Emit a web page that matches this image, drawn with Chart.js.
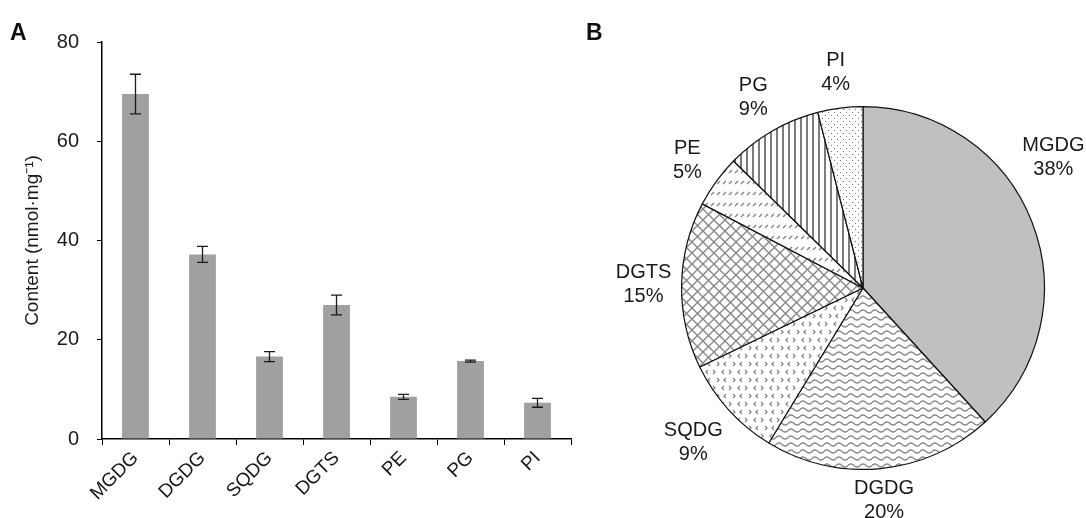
<!DOCTYPE html>
<html>
<head>
<meta charset="utf-8">
<script src="https://cdn.jsdelivr.net/npm/chart.js@4.4.1/dist/chart.umd.min.js"></script>
<style>
  body { margin: 0; background: #fff; width: 1086px; height: 518px; position: relative; overflow: hidden;
         font-family: 'Liberation Sans', Arial, sans-serif; }
  #barChart { position: absolute; left: 0; top: 0; }
  #pieChart { position: absolute; left: 560px; top: 0; }
  .panel { position: absolute; font-weight: bold; font-size: 23px; line-height: 1; color: #111; }
</style>
</head>
<body>
<canvas id="barChart" width="580" height="518"></canvas>
<canvas id="pieChart" width="526" height="518"></canvas>
<div class="panel" style="left:10px; top:21px;">A</div>
<div class="panel" style="left:586px; top:21px;">B</div>
<script>
// lipid classes and their content (nmol/mg)
var categories = ['MGDG', 'DGDG', 'SQDG', 'DGTS', 'PE', 'PG', 'PI'];
var contentValues = [69.5, 37.2, 16.6, 27.0, 8.5, 15.7, 7.3];
var contentErrors = [4.0, 1.6, 1.0, 2.0, 0.5, 0.2, 0.9];
var yTicks = [0, 20, 40, 60, 80];

var family = "'Liberation Sans', Arial, sans-serif";
var textColor = '#1a1a1a';

// error bars drawn with the y scale of the bar chart
var errorBars = {
  id: 'errorBars',
  afterDatasetsDraw: function (chart) {
    var ctx = chart.ctx, y = chart.scales.y;
    ctx.save();
    ctx.strokeStyle = '#1a1a1a';
    ctx.lineWidth = 1.3;
    chart.getDatasetMeta(0).data.forEach(function (bar, i) {
      var hi = y.getPixelForValue(contentValues[i] + contentErrors[i]);
      var lo = y.getPixelForValue(contentValues[i] - contentErrors[i]);
      ctx.beginPath();
      ctx.moveTo(bar.x, hi); ctx.lineTo(bar.x, lo);
      ctx.moveTo(bar.x - 5.5, hi); ctx.lineTo(bar.x + 5.5, hi);
      ctx.moveTo(bar.x - 5.5, lo); ctx.lineTo(bar.x + 5.5, lo);
      ctx.stroke();
    });
    ctx.restore();
  }
};

new Chart(document.getElementById('barChart'), {
  type: 'bar',
  data: {
    labels: categories,
    datasets: [{
      data: contentValues,
      backgroundColor: '#a0a0a0',
      barPercentage: 0.4,
      categoryPercentage: 1.0
    }]
  },
  options: {
    responsive: false,
    animation: false,
    layout: { padding: { top: 42, right: 9, left: 0, bottom: 0 } },
    plugins: { legend: { display: false }, tooltip: { enabled: false } },
    scales: {
      x: {
        grid: { drawOnChartArea: false, drawTicks: true, tickLength: 6, color: '#000', offset: true },
        border: { color: '#000', width: 1.5 },
        ticks: { maxRotation: 45, minRotation: 45, autoSkip: false, color: textColor,
                 font: { size: 19, family: family }, padding: 2 },
        afterFit: function (s) { s.height = 79; }
      },
      y: {
        min: 0, max: 80,
        afterBuildTicks: function (s) { s.ticks = yTicks.map(function (v) { return { value: v }; }); },
        grid: { drawOnChartArea: false, tickLength: 5, color: '#000' },
        border: { color: '#000', width: 1.5 },
        ticks: { color: textColor, font: { size: 20, family: family }, padding: 18 },
        title: { display: true, text: 'Content (nmol·mg⁻¹)', color: textColor,
                 font: { size: 19, family: family }, padding: { top: 21, bottom: 0 } },
        afterFit: function (s) { s.width = 102; }
      }
    }
  },
  plugins: [errorBars]
});

// pattern fills for the pie slices
function makePattern(w, h, draw) {
  var c = document.createElement('canvas');
  c.width = w; c.height = h;
  var g = c.getContext('2d');
  g.fillStyle = '#fff';
  g.fillRect(0, 0, w, h);
  g.fillStyle = '#888';
  g.strokeStyle = '#888';
  draw(g);
  return g.createPattern(c, 'repeat');
}

var fills = [
  '#c0c0c0',
  makePattern(12, 7, function (g) {           // waves
    g.lineWidth = 1.4;
    g.beginPath();
    g.moveTo(0, 3.5);
    g.quadraticCurveTo(3, 0.5, 6, 3.5);
    g.quadraticCurveTo(9, 6.5, 12, 3.5);
    g.stroke();
  }),
  makePattern(16, 16, function (g) {          // small chevrons
    g.lineWidth = 1.3;
    g.beginPath();
    g.moveTo(4, 2); g.lineTo(2, 4); g.lineTo(4, 6);
    g.moveTo(9, 2); g.lineTo(11, 4); g.lineTo(9, 6);
    g.moveTo(13, 10); g.lineTo(15, 12); g.lineTo(13, 14);
    g.moveTo(6, 10); g.lineTo(4, 12); g.lineTo(6, 14);
    g.stroke();
  }),
  makePattern(11, 11, function (g) {          // diamond lattice
    g.lineWidth = 1.4;
    g.beginPath();
    g.moveTo(0, 0); g.lineTo(11, 11);
    g.moveTo(11, 0); g.lineTo(0, 11);
    g.stroke();
  }),
  makePattern(6, 11, function (g) {           // dashed diagonals
    g.lineWidth = 1.4;
    g.beginPath();
    g.moveTo(1, 8); g.lineTo(4, 5);
    g.stroke();
  }),
  makePattern(6, 1, function (g) {            // vertical stripes
    g.fillStyle = '#7c7c7c';
    g.fillRect(0, 0, 2, 1);
  }),
  makePattern(6, 6, function (g) {            // dots
    g.fillStyle = '#777';
    g.fillRect(1, 1, 1, 1);
    g.fillRect(4, 4, 1, 1);
  })
];

// outside labels: name + percent, nudged round the circle if they run off the side,
// pushed up if they run off the bottom
var pieLabels = {
  id: 'pieLabels',
  afterDatasetsDraw: function (chart) {
    var ctx = chart.ctx;
    var total = contentValues.reduce(function (a, b) { return a + b; }, 0);
    var lineH = 24, pad = 10;
    var W = chart.width, H = chart.height;
    ctx.save();
    ctx.font = '20px ' + family;
    ctx.fillStyle = textColor;
    ctx.textAlign = 'center';
    ctx.textBaseline = 'middle';
    chart.getDatasetMeta(0).data.forEach(function (arc, i) {
      var lines = [categories[i], Math.round(contentValues[i] / total * 100) + '%'];
      var w = Math.max(ctx.measureText(lines[0]).width, ctx.measureText(lines[1]).width);
      var h = lineH * 2;
      function place(a) {
        var dx = Math.cos(a), dy = Math.sin(a);
        var d = arc.outerRadius + pad + Math.abs(dx) * w / 2 + Math.abs(dy) * h / 2;
        return { x: arc.x + dx * d, y: arc.y + dy * d };
      }
      function outside(p) {
        return p.x - w / 2 < 1 || p.x + w / 2 > W - 1;
      }
      var ang = (arc.startAngle + arc.endAngle) / 2;
      var step = (Math.cos(ang) > 0 ? 1 : -1) * (Math.sin(ang) > 0 ? 1 : -1) * 0.005;
      var p = place(ang), n = 0;
      while (outside(p) && n < 300) { ang += step; p = place(ang); n++; }
      p.y = Math.min(p.y, H - lineH / 2 - 6);
      ctx.fillText(lines[0], p.x, p.y - lineH / 2);
      ctx.fillText(lines[1], p.x, p.y + lineH / 2);
    });
    ctx.restore();
  }
};

new Chart(document.getElementById('pieChart'), {
  type: 'pie',
  data: {
    labels: categories,
    datasets: [{
      data: contentValues,
      backgroundColor: fills,
      borderColor: '#111',
      borderWidth: 1.2
    }]
  },
  options: {
    responsive: false,
    animation: false,
    layout: { padding: { top: 106, bottom: 48, left: 121, right: 41 } },
    plugins: { legend: { display: false }, tooltip: { enabled: false } }
  },
  plugins: [pieLabels]
});
</script>
</body>
</html>
